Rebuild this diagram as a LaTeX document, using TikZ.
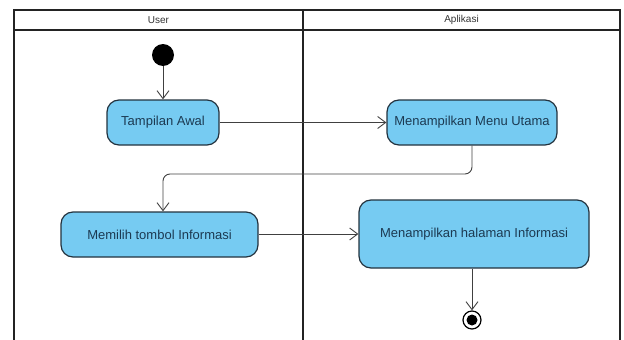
\documentclass[tikz,border=0pt]{standalone}
\usepackage{fontspec}
\setmainfont{Liberation Sans}
\usetikzlibrary{arrows.meta}
\definecolor{actfill}{RGB}{118,203,242}
\definecolor{actline}{RGB}{35,50,62}
\definecolor{acttext}{RGB}{28,58,82}
\definecolor{laneline}{RGB}{35,35,35}
\begin{document}
\begin{tikzpicture}[x=1pt, y=-1pt,
		activity/.style={draw=actline, line width=1.2pt, fill=actfill, rounded corners=12pt, text=acttext, font=\fontsize{13}{15}\selectfont, inner sep=0pt},
		flow/.style={draw=black!75, line width=0.9pt, -{Straight Barb[length=8pt, width=12pt, line width=0.9pt]}},
		lane/.style={draw=laneline, line width=1.8pt},
		lanetitle/.style={font=\fontsize{10}{12}\selectfont, text=black!80}]
			\useasboundingbox (0,0) rectangle (624,340);
			
			\draw[lane] (14,340) -- (14,10) -- (620,10) -- (620,340);
			\draw[lane] (14,30) -- (620,30);
			\draw[lane] (303,10) -- (303,340);
			\node[lanetitle] (user) at (158.5,20) {User};
			\node[lanetitle] (app) at (461.5,20) {Aplikasi};
			
			\node[circle, fill=black, minimum size=22pt, inner sep=0pt] (start) at (163,55) {};
			
			\node[activity, minimum width=112pt, minimum height=45pt] (tampil) at (163,122.5) {Tampilan Awal};
			\node[activity, minimum width=170pt, minimum height=45pt] (menu) at (472,122.5) {Menampilkan Menu Utama};
			\node[activity, minimum width=197pt, minimum height=45pt] (pilih) at (159.5,234.5) {Memilih tombol Informasi};
			\node[activity, minimum width=230pt, minimum height=68pt] (halaman) at (474,234) {Menampilkan halaman Informasi};
			
			\node[circle, draw=black, line width=1.2pt, minimum size=18pt, inner sep=0pt] (end) at (472,320) {};
			\node[circle, fill=black, minimum size=11pt, inner sep=0pt] (endin) at (end) {};
			
			\coordinate (bend) at (163,174);
			
			\draw[flow] (start) -- (tampil);
			\draw[flow] (tampil) -- (menu);
			\draw[flow, rounded corners=7pt] (menu.south) |- (bend) -- (bend |- pilih.north);
			\draw[flow] (pilih.east |- halaman) -- (halaman);
			\draw[flow] (halaman.south -| end) -- (end);
			
		\end{tikzpicture}
\end{document}
